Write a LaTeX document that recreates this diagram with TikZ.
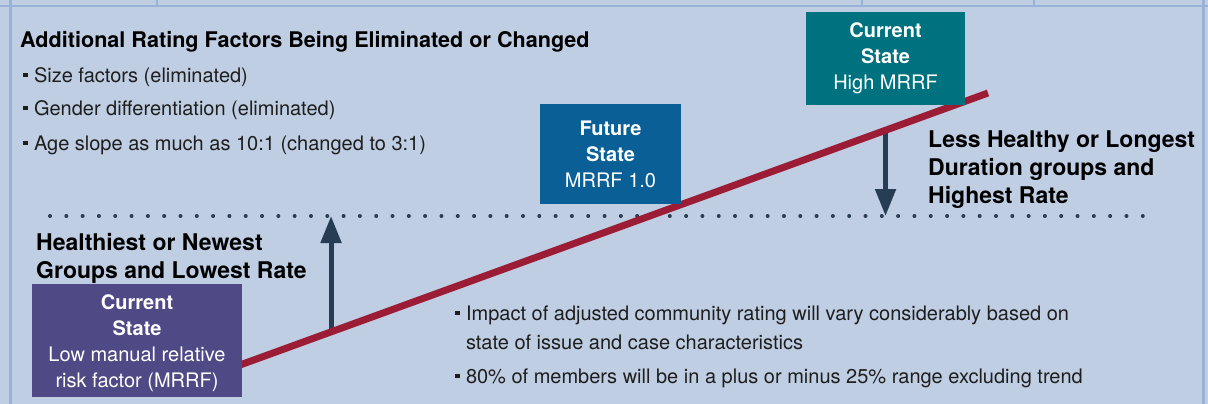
\documentclass[tikz,border=0pt]{standalone}
\usepackage{fontspec}
\setmainfont{TeX Gyre Heros}
\usepackage{xcolor}
\usetikzlibrary{arrows.meta, calc}

\definecolor{panelbg}{HTML}{BFCEE3}
\definecolor{panelrule}{HTML}{99B3D6}
\definecolor{ratered}{HTML}{9D1C35}
\definecolor{arrowslate}{HTML}{263D54}
\definecolor{highteal}{HTML}{00717F}
\definecolor{futureblue}{HTML}{0A6096}
\definecolor{lowpurple}{HTML}{4F4985}
\definecolor{bodytext}{HTML}{1E1E1E}

\newcommand{\sqbullet}{\rule[0.25em]{0.22em}{0.22em}\hspace{0.32em}}

\tikzset{
  body/.style={anchor=base west, inner sep=0pt, text=bodytext, font=\fontsize{20}{29}\selectfont, align=left},
  callout/.style={anchor=base west, inner sep=0pt, text=black, font=\bfseries\fontsize{23}{28}\selectfont, align=left},
  statebox/.style={inner sep=0pt, text=white, align=center, font=\fontsize{20}{26}\selectfont},
  shift arrow/.style={draw=arrowslate, line width=5pt, -{Triangle[width=20pt, length=27pt]}},
}

\begin{document}
\begin{tikzpicture}[x=1pt, y=-1pt]
  % Panel and rules
  \fill[panelbg] (0,0) rectangle (1208,404);
  \useasboundingbox (0,0) rectangle (1208,404);
  \draw[panelrule, line width=2.5pt] (0,6) -- (1208,6);
  \draw[panelrule, line width=2.5pt] (10.5,0) -- (10.5,404);
  \draw[panelrule, line width=2.5pt] (1203.5,0) -- (1203.5,404);
  \foreach \x in {157, 862, 1034}
    \draw[panelrule, line width=1.5pt] (\x,0) -- (\x,6);
  % Dotted threshold
  \coordinate (dotL) at (50,216);
  \coordinate (dotR) at (1143,216);
  \draw[arrowslate, line width=4pt, line cap=round, dash pattern=on 0pt off 16.31pt] (dotL) -- (dotR);
  % Rate line and shifts
  \coordinate (lowend) at (240,365);
  \coordinate (highend) at (988,93);
  \coordinate (upfoot) at ($(lowend)!0.1217!(highend)$);
  \coordinate (downfoot) at ($(lowend)!0.863!(highend)$);
  \draw[shift arrow] (upfoot) -- (upfoot |- dotL);
  \draw[shift arrow] (downfoot) -- (downfoot |- dotL);
  \draw[ratered, line width=7pt] (lowend) -- (highend);
  % State boxes
  \node[statebox, fill=lowpurple, minimum width=210pt, minimum height=113pt] (lowstate) at (137,340.5)
    {\rule{0pt}{20pt}\textbf{Current}\\\textbf{State}\\Low manual relative\\risk factor (MRRF)};
  \node[statebox, fill=futureblue, minimum width=141pt, minimum height=100pt] (futurestate) at (610.5,154)
    {\textbf{Future}\\\textbf{State}\\MRRF 1.0};
  \node[statebox, fill=highteal, minimum width=159pt, minimum height=93pt] (highstate) at (885.5,58.5)
    {\textbf{Current}\\\textbf{State}\\High MRRF};
  % Rating factors
  \node[body, font=\bfseries\fontsize{21.6}{25}\selectfont, text=black] (factorshead) at (20,47.5)
    {Additional Rating Factors Being Eliminated or Changed};
  \node[body] (sizefac) at (23,82) {\sqbullet Size factors (eliminated)};
  \node[body] (genderfac) at (23,115) {\sqbullet Gender differentiation (eliminated)};
  \node[body] (agefac) at (23,150) {\sqbullet Age slope as much as 10:1 (changed to 3:1)};
  % Group labels (base sits on the last line)
  \node[callout] (lowlabel) at (36,278) {Healthiest or Newest\\Groups and Lowest Rate};
  \node[callout] (highlabel) at (928,203) {Less Healthy or Longest\\Duration groups and\\Highest Rate};
  % Notes
  \node[body] (impactnote) at (455,349)
    {\sqbullet Impact of adjusted community rating will vary considerably based on\\\hphantom{\sqbullet}state of issue and case characteristics};
  \node[body] (rangenote) at (455,383) {\sqbullet 80\% of members will be in a plus or minus 25\% range excluding trend};
\end{tikzpicture}
\end{document}
